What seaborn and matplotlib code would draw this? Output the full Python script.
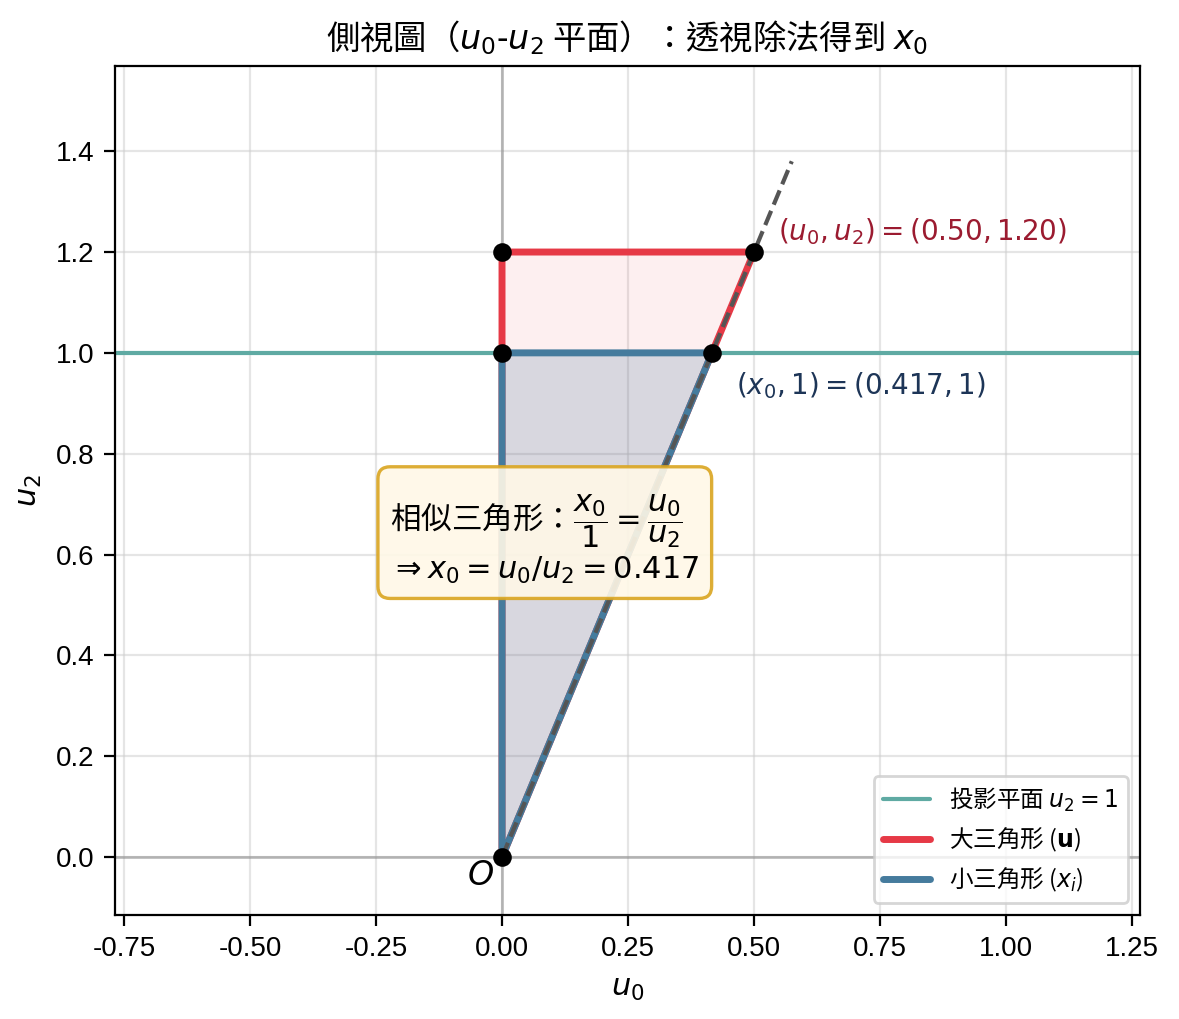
import numpy as np
import pandas as pd
import matplotlib
matplotlib.use("Agg")
import matplotlib.pyplot as plt
from matplotlib.font_manager import FontProperties
import seaborn as sns

# ---- data ----
u0, u2 = 0.50, 1.20
x0 = u0 / u2  # 0.417
big_tri_x = [0.0, 0.0, u0, 0.0]
big_tri_y = [0.0, u2, u2, 0.0]
small_tri_x = [0.0, 0.0, x0, 0.0]
small_tri_y = [0.0, 1.0, 1.0, 0.0]
ray_x = [0.0, 1.15 * u0]
ray_y = [0.0, 1.15 * u2]
pts_x = [0.0, 0.0, 0.0, u0, x0]
pts_y = [0.0, 1.0, u2, u2, 1.0]
xticks = [-0.75, -0.50, -0.25, 0.00, 0.25, 0.50, 0.75, 1.00, 1.25]
yticks = [0.0, 0.2, 0.4, 0.6, 0.8, 1.0, 1.2, 1.4]

sns.set_style("white")
plt.rcParams['font.family'] = ['Liberation Sans', 'Noto Sans CJK TC', 'DejaVu Sans']
plt.rcParams['axes.unicode_minus'] = False
plt.rcParams['mathtext.fontset'] = 'dejavusans'
for k in ['text.color', 'axes.labelcolor', 'xtick.color', 'ytick.color']:
    plt.rcParams[k] = 'black'

CJK = 'Noto Sans CJK TC'
RED = "#E63946"
BLUE = "#457B9D"
TEAL = "#5FAAA3"

fig = plt.figure(figsize=(1179 / 200, 1019 / 200), dpi=200)
ax = fig.add_axes([115 / 1179, 104 / 1019, 1025 / 1179, 849 / 1019])

ax.grid(True, color="#cccccc", alpha=0.5, linewidth=0.8)
ax.axhline(0, color="gray", linewidth=1, alpha=0.5, zorder=1)
ax.axvline(0, color="gray", linewidth=1, alpha=0.5, zorder=1)
ax.axhline(1.0, color=TEAL, linewidth=1.5, zorder=2, label=r"投影平面 $u_2=1$")

# big triangle
ax.fill(big_tri_x, big_tri_y, color=RED, alpha=0.08, zorder=2, linewidth=0)
sns.lineplot(x=big_tri_x, y=big_tri_y, sort=False, color=RED, linewidth=2.5,
             ax=ax, zorder=3, label=r"大三角形 ($\mathbf{u}$)", estimator=None)
# small triangle
ax.fill(small_tri_x, small_tri_y, color=BLUE, alpha=0.2, zorder=3, linewidth=0)
sns.lineplot(x=small_tri_x, y=small_tri_y, sort=False, color=BLUE, linewidth=2.5,
             ax=ax, zorder=4, label=r"小三角形 ($x_i$)", estimator=None)
# ray
ax.plot(ray_x, ray_y, linestyle="--", color="#555555", linewidth=1.5, zorder=5)

sns.scatterplot(x=pts_x, y=pts_y, color="black", s=45, ax=ax, zorder=6,
                edgecolor="black", linewidth=0)

ax.text(0.548, 1.24, r"$(u_0,u_2)=(0.50,1.20)$", color="#9B1B30", fontsize=10,
        ha="left", va="center")
ax.text(0.464, 0.935, r"$(x_0,1)=(0.417,1)$", color="#1D3557", fontsize=10,
        ha="left", va="center")
ax.text(-0.043, -0.038, r"$O$", fontsize=12, ha="center", va="center")

ax.text(-0.222, 0.63,
        "相似三角形：" + r"$\dfrac{x_0}{1}=\dfrac{u_0}{u_2}$" + "\n" + r"$\Rightarrow x_0=u_0/u_2=0.417$",
        fontsize=11, ha="left", va="center", zorder=7, fontfamily=CJK,
        bbox=dict(boxstyle="round,pad=0.4", facecolor="#FFF8E7", edgecolor="#DAA520",
                  linewidth=1.2, alpha=0.9))

ax.set_xlim(-0.768, 1.266)
ax.set_ylim(-0.115, 1.569)
ax.set_xticks(xticks)
ax.set_xticklabels([f"{v:.2f}" for v in xticks])
ax.set_yticks(yticks)
ax.set_yticklabels([f"{v:.1f}" for v in yticks])
ax.tick_params(labelsize=10, length=4, width=0.8, left=True, bottom=True)
for s in ax.spines.values():
    s.set_color("black")
    s.set_linewidth(0.8)

ax.set_xlabel(r"$u_0$", fontsize=11)
ax.set_ylabel(r"$u_2$", fontsize=11)
ax.set_title("側視圖（$u_0$-$u_2$ 平面）：透視除法得到 $x_0$", fontsize=12, fontfamily=CJK)

ax.legend(loc="lower right", prop=FontProperties(family=CJK, size=8.5),
          frameon=True, framealpha=0.8)

fig.savefig("out.png", dpi=200)
